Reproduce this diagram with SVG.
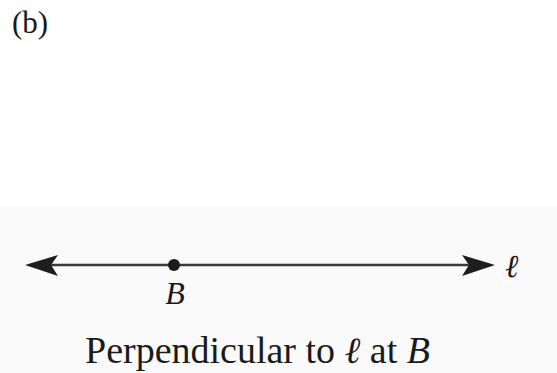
<svg xmlns="http://www.w3.org/2000/svg" width="557" height="373" viewBox="0 0 557 373">
  <style>
    .t { font-family: "Liberation Serif", "Times New Roman", serif; fill: #1a1a1a; }
    .i { font-style: italic; }
    .ln { stroke: #3a3a3a; stroke-width: 2.5; fill: none; }
    .ah { fill: #1e1e1e; }
  </style>
  <rect x="0" y="0" width="557" height="373" fill="#ffffff"/>
  <rect x="0" y="207" width="557" height="166" fill="#fafafa"/>
  <g id="label-b">
    <text class="t" x="12" y="33" font-size="31">(b)</text>
  </g>
  <g id="connectors">
    <line class="ln" x1="48" y1="265" x2="472" y2="265"/>
    <polygon class="ah" points="25,265 58,255 51,265 58,276"/>
    <polygon class="ah" points="495,265 462,255 469,265 462,276"/>
  </g>
  <g id="point-B">
    <circle cx="174" cy="265" r="6" fill="#1a1a1a"/>
    <text class="t i" x="175" y="304" font-size="32" text-anchor="middle">B</text>
  </g>
  <g id="line-label">
    <text class="t i" x="505" y="277" font-size="32">ℓ</text>
  </g>
  <g id="caption">
    <text class="t" x="85" y="363" font-size="37" textLength="345" lengthAdjust="spacingAndGlyphs">Perpendicular to <tspan class="i">ℓ</tspan> at <tspan class="i">B</tspan></text>
  </g>
</svg>
